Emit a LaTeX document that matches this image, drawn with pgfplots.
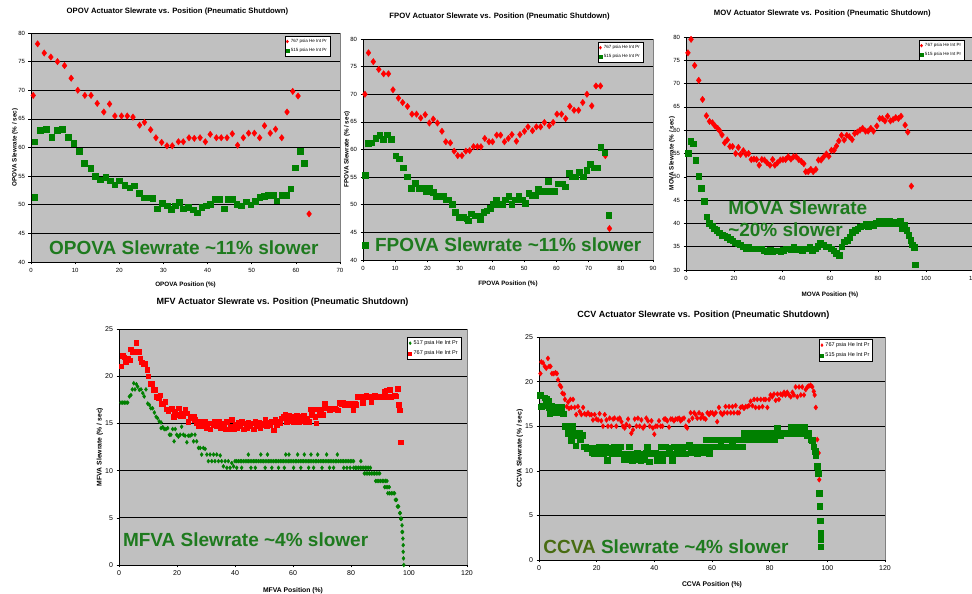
\documentclass[border=0pt]{standalone}
\usepackage{fontspec}
\setmainfont{Liberation Sans}
\usepackage{pgfplots}
\pgfplotsset{compat=1.18}
\definecolor{plotgray}{RGB}{192,192,192}
\definecolor{xlred}{RGB}{255,0,0}
\definecolor{xlgreen}{RGB}{0,128,0}
\definecolor{annog}{RGB}{30,122,30}
\definecolor{annoolive}{RGB}{72,108,18}
\pgfplotsset{
 every axis title shift=0pt,
 xlbase/.style={
  scale only axis,
  axis background/.style={fill=plotgray, draw=gray},
  axis x line*=bottom, axis y line*=left,
  axis line style={black,-,line width=0.5pt},
  tick align=outside, major tick length=2.5pt,
  tick style={black,line width=0.5pt},
  ymajorgrids, grid style={black,line width=0.6pt},
  /pgf/number format/assume math mode=true,
  legend cell align=left,
  legend image code/.code={\draw[##1,mark size=1.5pt] plot coordinates {(2pt,0pt)};},
 },
 topfonts/.style={
  ticklabel style={font=\fontsize{6}{7}\selectfont},
  label style={font=\fontsize{6.3}{7}\selectfont\bfseries},
  title style={font=\fontsize{7.7}{9}\selectfont\bfseries, anchor=center},
  legend style={draw=black, fill=white, font=\fontsize{4.5}{5}\selectfont, inner sep=1pt, row sep=0.5pt, anchor=north east},
 },
 botfonts/.style={
  ticklabel style={font=\fontsize{7}{8}\selectfont},
  label style={font=\fontsize{6.8}{8}\selectfont\bfseries},
  title style={font=\fontsize{9}{10}\selectfont\bfseries, anchor=center},
  legend style={draw=black, fill=white, font=\fontsize{5.5}{6}\selectfont, inner sep=1.2pt, row sep=0.8pt, anchor=north east},
 },
 redd/.style={only marks, mark=diamond*, color=xlred, mark size=#1},
 greens/.style={only marks, mark=square*, color=xlgreen, mark size=#1},
 gredd/.style={only marks, mark=diamond*, color=xlgreen, mark size=#1},
 reds/.style={only marks, mark=square*, color=xlred, mark size=#1},
}
\newcommand\anno{\fontsize{19}{22}\selectfont\bfseries}
\begin{document}
\begin{tikzpicture}
% ---------------- OPOV ----------------
\begin{axis}[xlbase, topfonts, at={(31pt,332pt)}, anchor=south west,
  width=309pt, height=229pt, xmin=0, xmax=70, ymin=40, ymax=80,
  xtick={0,10,...,70}, ytick={40,45,...,80},
  title={OPOV Actuator Slewrate vs. Position (Pneumatic Shutdown)},
  title style={at={(rel axis cs:0.474,1.092)}},
  xlabel={OPOVA Position (\%)}, xlabel style={at={(rel axis cs:0.5,-0.100)}, anchor=center},
  ylabel={OPOVA Slewrate (\% / sec)}, ylabel style={at={(rel axis cs:-0.052,0.5)}, anchor=center, rotate=0},
  legend style={at={(rel axis cs:0.968,0.987)}}]
\addplot[redd=3.2pt] coordinates {(0.5,69.1)(1.5,78.1)(3.0,76.5)(4.5,75.8)(6.0,75.0)(7.6,74.3)(9.1,72.1)(10.6,70.0)(12.2,69.1)(13.6,69.1)(15.0,67.7)(16.5,66.2)(17.8,67.6)(19.0,65.5)(20.5,65.5)(21.8,65.5)(23.1,65.3)(24.6,63.9)(25.7,64.4)(27.1,63.1)(28.3,61.7)(29.6,60.9)(30.8,60.3)(32.0,60.3)(33.4,61.0)(34.5,61.0)(35.8,61.7)(37.0,61.6)(38.3,61.7)(39.5,61.0)(40.6,62.3)(42.0,61.7)(43.1,61.7)(44.4,61.7)(45.6,62.4)(46.8,60.4)(48.1,61.7)(49.3,62.5)(50.6,62.5)(51.8,61.7)(52.9,63.8)(54.2,62.5)(55.4,63.2)(56.8,61.7)(58.0,66.2)(59.3,69.8)(60.5,69.0)(63.0,48.4)};
\addlegendentry{767 psia He Int Pr}
\addplot[greens=2.8pt] coordinates {(0.8,51.3)(0.8,61.0)(2.1,63.0)(3.5,63.2)(4.7,61.8)(5.9,63.0)(7.1,63.2)(8.4,61.8)(9.7,60.8)(10.9,59.4)(12.1,57.3)(13.5,56.4)(14.6,55.0)(15.7,54.4)(16.9,54.8)(18.0,54.2)(19.0,53.5)(20.0,54.2)(21.2,53.4)(22.4,53.0)(23.4,53.3)(24.5,52.0)(25.5,51.2)(26.6,51.2)(27.6,51.1)(28.6,49.3)(29.7,50.3)(30.8,49.8)(31.8,49.2)(32.7,49.8)(33.6,50.4)(34.5,49.3)(35.6,49.6)(36.7,49.1)(37.6,48.6)(38.7,49.6)(39.7,49.8)(40.6,50.1)(41.6,51.0)(42.6,51.0)(43.7,49.3)(44.7,51.0)(45.7,51.0)(46.6,50.1)(47.6,49.8)(48.7,50.5)(49.8,50.0)(50.8,50.6)(51.8,51.3)(52.8,51.5)(53.8,51.7)(54.8,51.7)(55.7,50.7)(56.8,51.7)(57.9,51.7)(58.8,52.8)(59.9,56.5)(61.0,59.4)(61.9,57.3)};
\addlegendentry{515 psia He Int Pr}
\node[anchor=west, inner sep=0, font=\anno, text=annog] at (rel axis cs:0.058,0.061) {OPOVA Slewrate \textasciitilde11\% slower};
\end{axis}
% ---------------- FPOV ----------------
\begin{axis}[xlbase, topfonts, at={(363pt,334pt)}, anchor=south west,
  width=290pt, height=221pt, xmin=0, xmax=90, ymin=40, ymax=80,
  xtick={0,10,...,90}, ytick={40,45,...,80},
  title={FPOV Actuator Slewrate vs. Position (Pneumatic Shutdown)},
  title style={at={(rel axis cs:0.471,1.100)}},
  xlabel={FPOVA Position (\%)}, xlabel style={at={(rel axis cs:0.5,-0.109)}, anchor=center},
  ylabel={FPOVA Slewrate (\% / sec)}, ylabel style={at={(rel axis cs:-0.055,0.5)}, anchor=center, rotate=0},
  legend style={at={(rel axis cs:0.966,0.986)}}]
\addplot[redd=3.2pt] coordinates {(0.6,70.0)(1.7,77.5)(3.2,75.9)(4.9,74.5)(6.4,73.7)(7.9,73.7)(9.3,70.8)(11.0,69.3)(12.3,68.5)(13.8,67.8)(15.2,66.4)(16.6,66.4)(17.9,65.7)(19.3,66.3)(20.6,64.8)(21.8,65.5)(23.1,64.8)(24.5,63.3)(25.7,61.4)(27.1,61.2)(28.3,59.7)(29.4,58.9)(30.7,58.9)(31.9,59.7)(33.1,59.8)(34.3,60.5)(35.5,60.5)(36.6,60.5)(37.8,62.0)(39.1,61.4)(40.2,61.4)(41.5,62.6)(42.7,62.6)(43.9,61.4)(45.1,62.0)(46.2,62.7)(47.6,61.5)(48.7,62.7)(50.1,63.3)(51.2,64.1)(52.6,63.4)(53.8,64.1)(55.1,64.1)(56.3,64.9)(57.8,64.3)(59.0,64.9)(60.2,66.4)(61.6,66.4)(62.9,65.6)(64.2,67.8)(65.5,67.1)(66.9,67.1)(68.2,68.5)(69.5,70.0)(71.0,67.9)(72.3,71.5)(73.7,71.5)(75.2,58.9)(76.5,45.7)};
\addlegendentry{767 psia He Int Pr}
\addplot[greens=2.8pt] coordinates {(0.6,55.3)(0.6,42.7)(1.7,61.1)(2.6,61.2)(3.9,62.0)(5.2,62.6)(6.3,61.9)(7.6,62.7)(8.7,61.9)(10.1,58.9)(11.3,58.3)(12.5,56.7)(13.8,55.1)(15.0,53.0)(16.2,53.9)(17.4,53.0)(18.6,53.0)(19.7,52.5)(20.7,53.0)(21.8,52.3)(22.8,51.6)(23.8,51.6)(24.8,51.6)(25.7,50.9)(26.6,50.9)(27.7,50.1)(28.7,48.6)(29.9,47.8)(31.1,47.8)(32.2,47.5)(32.7,47.1)(33.6,48.4)(34.7,48.0)(35.8,48.0)(36.4,47.4)(37.4,48.7)(38.4,48.9)(39.5,49.4)(40.3,50.1)(41.3,50.9)(42.3,50.1)(43.2,50.1)(44.2,50.9)(45.2,51.5)(46.2,50.1)(47.3,50.9)(48.3,51.5)(49.4,50.9)(50.3,50.3)(51.4,52.1)(52.5,51.7)(53.4,51.7)(54.4,52.8)(55.5,52.4)(56.5,52.5)(57.4,54.3)(58.5,52.4)(59.5,52.5)(60.6,53.8)(61.8,53.8)(62.8,53.3)(63.9,55.7)(64.9,55.1)(66.0,55.1)(67.1,55.9)(68.3,55.1)(69.4,56.2)(70.5,57.3)(71.8,56.7)(72.8,56.7)(73.8,60.4)(75.0,59.4)(76.3,48.1)};
\addlegendentry{515 psia He Int Pr}
\node[anchor=west, inner sep=0, font=\anno, text=annog] at (rel axis cs:0.041,0.068) {FPOVA Slewrate \textasciitilde11\% slower};
\end{axis}
% ---------------- MOV ----------------
\begin{axis}[xlbase, topfonts, at={(686pt,324pt)}, anchor=south west,
  width=288pt, height=233pt, xmin=0, xmax=120, ymin=30, ymax=80,
  xtick={0,20,...,120}, ytick={30,35,...,80},
  title={MOV Actuator Slewrate vs. Position (Pneumatic Shutdown)},
  title style={at={(rel axis cs:0.473,1.099)}},
  xlabel={MOVA Position (\%)}, xlabel style={at={(rel axis cs:0.5,-0.107)}, anchor=center},
  ylabel={MOVA Slewrate (\% / sec)}, ylabel style={at={(rel axis cs:-0.049,0.5)}, anchor=center, rotate=0},
  legend style={at={(rel axis cs:0.966,0.987)}}]
\addplot[redd=3.2pt] coordinates {(0.8,76.6)(2.1,79.5)(3.6,73.9)(5.3,70.7)(6.9,66.6)(8.5,63.1)(9.8,61.9)(11.0,61.6)(12.1,60.9)(13.2,60.4)(14.0,59.9)(15.0,59.0)(16.1,57.3)(17.2,57.9)(18.3,56.5)(19.4,56.5)(20.7,55.0)(21.8,56.3)(22.7,54.8)(23.9,55.6)(25.0,54.8)(26.1,55.0)(27.2,53.7)(28.3,53.8)(29.4,53.7)(30.5,52.5)(31.6,53.7)(32.7,53.6)(33.8,53.0)(35.0,52.5)(36.1,53.7)(37.0,52.5)(38.1,53.0)(39.3,53.6)(40.4,53.7)(41.5,53.7)(42.6,54.3)(43.7,53.8)(44.8,54.3)(45.9,54.3)(47.0,53.7)(48.1,53.3)(49.1,52.8)(49.9,51.1)(50.9,51.1)(52.0,51.6)(53.0,51.1)(54.1,51.6)(55.2,53.6)(56.3,53.6)(57.4,54.3)(58.5,54.9)(59.5,54.4)(60.6,55.7)(61.7,55.7)(62.7,56.6)(63.7,57.7)(64.8,58.9)(65.9,57.9)(67.0,58.9)(68.1,58.6)(69.2,58.0)(70.3,59.3)(71.4,59.6)(72.5,60.0)(73.6,60.4)(74.8,59.8)(75.9,59.8)(77.0,60.4)(78.1,59.8)(79.5,60.9)(80.7,62.5)(81.8,62.5)(82.9,62.0)(84.0,63.0)(85.2,62.0)(86.3,62.3)(87.4,62.7)(88.5,62.5)(89.6,63.0)(91.3,61.1)(92.4,59.6)(93.9,48.0)};
\addlegendentry{767 psia He Int Pr}
\addplot[greens=2.8pt] coordinates {(0.8,55.0)(1.9,57.7)(2.9,57.1)(4.0,53.6)(5.3,50.1)(6.4,47.6)(7.5,44.8)(8.6,41.4)(9.7,40.1)(10.8,39.5)(11.8,38.9)(12.8,38.6)(13.9,38.0)(15.0,37.5)(16.1,37.4)(17.2,37.0)(18.3,36.6)(19.4,36.3)(20.5,35.9)(21.6,35.7)(22.7,35.4)(23.9,35.0)(25.0,34.6)(26.1,34.9)(27.2,34.6)(28.3,34.6)(29.4,34.6)(30.5,34.6)(31.6,34.6)(32.7,34.1)(33.8,33.9)(35.0,34.3)(36.1,33.9)(37.2,34.1)(38.3,34.1)(39.4,33.9)(40.5,34.3)(41.6,34.6)(42.7,34.6)(43.8,34.4)(44.9,35.0)(46.0,34.4)(47.2,34.6)(48.3,34.1)(49.4,34.6)(50.5,34.6)(51.6,35.0)(52.7,34.3)(53.8,34.6)(54.9,35.1)(56.0,35.8)(57.1,35.4)(58.3,35.0)(59.4,35.0)(60.5,34.6)(61.6,34.1)(62.7,33.6)(63.8,33.2)(64.9,35.0)(66.0,36.1)(67.1,36.4)(68.2,37.1)(69.3,38.1)(70.5,38.6)(71.6,38.9)(72.7,39.3)(73.8,39.5)(74.9,39.9)(76.0,39.3)(77.1,39.9)(78.2,39.6)(79.3,40.1)(80.4,40.6)(81.6,40.0)(82.7,40.6)(83.8,40.0)(84.9,40.6)(86.0,40.0)(87.1,40.4)(88.2,39.9)(89.3,40.6)(89.9,38.9)(91.0,39.6)(92.0,38.6)(92.8,37.5)(93.6,36.4)(94.3,35.4)(95.0,34.9)(95.6,31.1)};
\addlegendentry{515 psia He Int Pr}
\node[anchor=west, align=left, inner sep=0, font=\anno, text=annog] at (rel axis cs:0.146,0.219) {MOVA Slewrate\\\textasciitilde20\% slower};
\end{axis}
% ---------------- MFV ----------------
\begin{axis}[xlbase, botfonts, at={(119pt,29pt)}, anchor=south west,
  width=348pt, height=236pt, xmin=0, xmax=120, ymin=0, ymax=25,
  xtick={0,20,...,120}, ytick={0,5,...,25},
  title={MFV Actuator Slewrate vs. Position (Pneumatic Shutdown)},
  title style={at={(rel axis cs:0.470,1.114)}},
  xlabel={MFVA Position (\%)}, xlabel style={at={(rel axis cs:0.5,-0.110)}, anchor=center},
  ylabel={MFVA Slewrate (\% / sec)}, ylabel style={at={(rel axis cs:-0.055,0.5)}, anchor=center, rotate=0},
  legend style={at={(rel axis cs:0.983,0.966)}}]
\addplot[gredd=2pt] coordinates {(0.7,17.2)(1.3,17.2)(1.8,17.2)(2.4,17.2)(3.0,17.2)(3.6,17.85)(4.1,18.0)(4.6,18.6)(5.1,19.25)(5.5,18.6)(6.0,19.15)(6.4,18.9)(7.0,18.55)(7.6,18.6)(8.2,18.2)(8.7,17.85)(9.3,18.6)(9.9,17.1)(10.5,16.95)(11.0,16.6)(11.6,16.6)(12.2,16.15)(12.8,15.7)(13.3,15.55)(13.9,15.2)(14.5,15.1)(14.5,14.5)(15.1,14.6)(15.6,14.4)(16.2,14.4)(16.8,14.5)(17.4,13.8)(17.9,13.8)(18.5,14.4)(19.0,13.1)(19.4,14.4)(19.9,13.8)(20.5,13.6)(21.1,13.8)(21.6,14.65)(22.2,13.8)(22.8,13.7)(23.4,13.0)(23.9,13.7)(24.5,13.7)(25.1,13.8)(25.7,13.1)(26.2,13.8)(26.8,13.1)(27.4,12.4)(28.0,12.4)(28.5,11.7)(29.1,12.4)(29.7,12.3)(30.3,11.7)(30.8,11.0)(31.4,11.7)(32.0,11.0)(32.6,11.7)(33.1,11.0)(33.7,11.7)(34.3,11.0)(34.9,11.6)(35.4,11.0)(36.0,10.45)(36.6,11.0)(37.2,10.3)(37.7,11.0)(38.3,10.3)(38.9,10.8)(39.5,10.45)(40.0,11.0)
(40.6,11.0)(41.2,11.0)(41.8,11.0)(42.3,11.0)(42.9,11.0)(43.5,11.0)(44.1,11.0)(44.6,11.0)(45.2,11.0)(45.8,11.0)(46.4,11.0)(46.9,11.0)(47.5,11.0)(48.1,11.0)(48.7,11.0)(49.3,11.0)(49.8,11.0)(50.4,11.0)(51.0,11.0)(51.6,11.0)(52.1,11.0)(52.7,11.0)(53.3,11.0)(53.9,11.0)(54.4,11.0)(55.0,11.0)(55.6,11.0)(56.2,11.0)(56.7,11.0)(57.3,11.0)(57.9,11.0)(58.5,11.0)(59.0,11.0)(59.6,11.0)(60.2,11.0)(60.8,11.0)(61.3,11.0)(61.9,11.0)(62.5,11.0)(63.1,11.0)(63.6,11.0)(64.2,11.0)(64.8,11.0)(65.4,11.0)(65.9,11.0)(66.5,11.0)(67.1,11.0)(67.7,11.0)(68.2,11.0)(68.8,11.0)(69.4,11.0)(70.0,11.0)(70.5,11.0)(71.1,11.0)(71.7,11.0)(72.3,11.0)(72.8,11.0)(73.4,11.0)(74.0,11.0)(74.6,11.0)(75.1,11.0)(75.7,11.0)(76.3,11.0)(76.9,11.0)(77.4,11.0)(78.0,11.0)(78.6,11.0)(79.2,11.0)(79.8,11.0)(80.3,11.0)(80.9,11.0)(83.4,11.0)
(40.6,10.3)(42.3,10.3)(45.5,10.3)(47.0,10.3)(50.4,10.3)(52.7,10.3)(55.0,10.3)(57.0,10.3)(60.2,10.3)(62.7,10.3)(65.4,10.3)(67.1,10.3)(70.0,10.3)(72.6,10.3)(74.0,10.3)(77.5,10.3)(78.6,10.3)(79.7,10.3)(80.9,10.3)(81.5,10.3)(82.0,10.3)(82.6,10.3)(83.2,10.3)(83.8,10.3)(84.4,10.3)(85.0,10.3)(85.5,10.3)(86.1,10.3)(86.7,10.3)
(44.6,11.7)(48.9,11.7)(51.2,11.7)(57.5,11.7)(58.6,11.7)(61.6,11.7)(63.9,11.7)(66.2,11.7)(68.5,11.7)(71.6,11.7)(75.3,11.7)
(84.6,9.7)(85.2,9.7)(85.8,9.7)(86.4,9.7)(87.0,9.7)(87.6,9.7)(88.1,9.7)(88.7,9.7)(89.3,9.7)(89.9,9.7)
(88.5,8.9)(89.0,8.9)(89.6,8.9)(90.2,8.9)(90.8,8.9)(91.3,8.9)(91.9,8.9)(92.4,8.9)
(91.6,8.25)(92.1,8.25)(92.7,8.25)(93.2,8.25)(92.7,7.6)(93.3,7.6)(93.9,7.6)(94.5,7.6)(95.0,7.6)
(95.3,6.9)(95.7,6.9)(96.0,6.2)(96.4,6.2)(96.8,5.5)(97.0,5.5)(97.1,4.9)(97.4,4.9)(97.6,4.2)(97.6,3.5)(97.8,3.5)(97.9,2.8)(98.0,2.1)(98.0,1.4)(98.1,0.7)(98.2,0.0)};
\addlegendentry{517 psia He Int Pr}
\addplot[reds=2.3pt] coordinates {(0.7,21.05)(1.2,22.2)(1.8,22.0)(2.4,21.5)(3.0,21.9)(3.6,21.7)(4.1,22.85)(4.7,22.6)(5.3,22.6)(5.9,23.55)(6.4,22.6)(7.0,22.6)(7.3,21.9)(7.8,21.5)(8.4,21.3)(9.1,21.3)(9.7,20.7)(10.1,20.0)(10.7,19.2)(11.4,19.2)(11.9,18.6)(12.4,18.6)(13.0,17.8)(13.6,17.7)(14.2,18.0)(14.7,17.1)(15.3,17.1)(15.9,17.3)(16.5,16.5)(17.0,16.3)(17.6,16.5)(18.2,16.6)(18.8,15.7)(19.3,16.3)(19.9,15.9)(20.5,16.6)(21.1,15.8)(21.6,16.1)(22.2,15.8)(22.8,16.5)(23.4,16.1)(23.9,15.2)(24.5,15.7)(25.1,15.55)(25.7,15.7)(26.2,15.4)(26.8,15.1)(27.4,14.7)(28.0,15.2)(28.5,15.1)(29.1,14.7)(29.7,15.2)(30.3,14.5)(30.8,15.0)(31.4,14.4)(32.0,15.0)(32.6,14.85)(33.1,15.2)(33.7,14.7)(34.3,15.2)(34.9,14.5)(35.4,15.0)(36.0,14.75)(36.6,14.4)(37.2,15.2)(37.7,14.4)(38.3,14.7)(38.9,15.4)(39.5,14.4)(40.0,14.85)(40.6,14.5)(41.2,15.1)(41.8,14.7)(42.3,15.2)(42.9,14.4)(43.5,15.0)(44.1,14.5)(44.6,15.1)(45.2,14.75)(45.8,15.0)(46.4,14.4)(46.9,15.2)(47.5,14.7)(48.1,15.1)(48.7,14.5)(49.3,15.0)(49.8,14.85)(50.4,15.4)(51.0,14.7)(51.6,15.1)(52.1,14.85)(52.7,15.2)(53.3,14.3)(53.9,15.4)(54.4,14.85)(55.0,15.2)(55.6,15.1)(56.2,15.55)(56.7,15.7)(57.3,15.9)(57.9,15.2)(58.5,15.8)(59.0,15.3)(59.6,15.7)(60.2,15.2)(60.8,15.55)(61.3,15.8)(61.9,15.2)(62.5,15.7)(63.1,15.3)(63.6,15.8)(64.2,15.2)(64.8,15.55)(65.4,15.2)(65.9,16.5)(66.5,15.9)(67.1,16.5)(67.7,15.7)(68.0,15.0)(68.6,16.5)(69.2,15.9)(69.7,16.5)(70.3,15.9)(70.9,17.1)(71.5,16.6)(72.0,16.6)(72.6,16.4)(73.2,16.5)(73.8,16.6)(74.3,16.6)(74.9,16.5)(75.5,16.4)(76.1,17.2)(76.6,17.1)(77.2,17.2)(77.8,16.95)(78.4,17.1)(78.9,16.95)(79.5,17.1)(80.1,16.95)(80.7,16.4)(81.2,17.1)(81.8,16.95)(82.4,17.8)(83.0,17.8)(83.5,17.8)(84.1,17.2)(84.7,17.8)(85.3,18.0)(85.8,17.9)(86.4,17.8)(87.0,17.3)(87.6,17.9)(88.1,18.0)(88.7,17.8)(89.3,17.9)(89.9,17.8)(90.5,17.9)(91.0,17.8)(91.6,18.4)(92.2,18.5)(92.8,17.8)(93.3,18.6)(93.9,17.8)(94.5,17.9)(95.1,18.0)(95.6,17.9)(96.0,18.7)(96.4,17.0)(96.8,16.4)(97.2,13.0)};
\addlegendentry{767 psia He Int Pr}
\node[anchor=west, inner sep=0, font=\anno, text=annog] at (rel axis cs:0.011,0.106) {MFVA Slewrate \textasciitilde4\% slower};
\end{axis}
% ---------------- CCV ----------------
\begin{axis}[xlbase, botfonts, at={(539pt,34pt)}, anchor=south west,
  width=346pt, height=223pt, xmin=0, xmax=120, ymin=0, ymax=25,
  xtick={0,20,...,120}, ytick={0,5,...,25},
  title={CCV Actuator Slewrate vs. Position (Pneumatic Shutdown)},
  title style={at={(rel axis cs:0.475,1.099)}},
  xlabel={CCVA Position (\%)}, xlabel style={at={(rel axis cs:0.5,-0.112)}, anchor=center},
  ylabel={CCVA Slewrate (\% / sec)}, ylabel style={at={(rel axis cs:-0.055,0.5)}, anchor=center, rotate=0},
  legend style={at={(rel axis cs:0.965,0.991)}}]
\addplot[redd=2.5pt] coordinates {(0.5,20.9)(0.8,22.2)(1.4,22.1)(2.0,21.7)(2.5,21.5)(3.1,22.6)(3.5,21.7)(4.0,21.7)(4.5,20.9)(5.1,20.9)(5.7,21.0)(6.2,20.9)(6.6,20.2)(7.2,19.6)(7.7,19.4)(8.1,18.7)(8.7,18.6)(9.0,18.0)(9.6,17.2)(10.1,17.7)(10.4,17.0)(10.9,18.0)(11.2,17.1)(11.8,18.0)(12.4,17.1)(12.9,16.3)(13.5,17.2)(14.1,16.65)(14.7,16.3)(15.3,17.1)(15.8,16.4)(16.4,16.3)(17.0,16.5)(17.6,16.3)(18.2,16.3)(18.7,15.7)(19.3,16.3)(19.9,15.8)(20.5,15.7)(21.0,16.4)(21.6,15.6)(22.2,15.0)(22.8,16.3)(23.4,15.7)(23.9,15.0)(24.5,15.9)(25.1,15.0)(25.7,15.8)(26.2,15.9)(26.8,15.0)(27.4,15.8)(28.0,15.9)(28.6,15.5)(29.1,15.0)(29.7,14.8)(30.3,15.2)(30.9,15.8)(31.4,15.0)(32.0,14.2)(32.6,14.6)(33.2,15.8)(33.8,15.0)(34.3,15.9)(34.9,15.0)(35.5,15.7)(36.1,14.8)(36.6,15.0)(37.2,15.9)(37.8,15.6)(38.4,15.0)(39.0,15.6)(39.5,14.8)(40.0,14.1)(40.5,15.0)(41.0,15.0)(41.6,15.6)(42.2,15.0)(42.8,15.0)(43.4,15.8)(43.9,15.8)(44.5,15.6)(45.1,14.9)(45.7,15.8)(46.2,15.8)(46.8,15.6)(47.4,15.8)(48.0,15.8)(48.6,15.9)(49.1,15.6)(49.7,15.8)(50.3,15.9)(50.9,15.0)(51.4,14.8)(52.0,15.6)(52.6,16.5)(53.2,15.9)(53.8,16.5)(54.3,16.3)(54.9,15.9)(55.5,16.5)(56.1,15.9)(56.6,16.3)(57.2,15.9)(57.8,15.8)(58.4,16.5)(59.0,16.3)(59.5,16.5)(60.1,16.5)(60.7,16.3)(61.3,16.5)(61.8,15.5)(62.4,17.1)(63.0,16.5)(63.6,16.3)(64.2,16.5)(64.7,17.2)(65.3,16.5)(65.9,17.2)(66.5,16.5)(67.1,17.2)(67.6,16.5)(68.2,17.3)(68.8,16.5)(69.4,16.5)(69.9,17.1)(70.5,17.2)(71.1,17.0)(71.7,17.2)(72.3,17.2)(72.8,17.3)(73.4,17.8)(74.0,17.3)(74.6,18.0)(75.1,17.1)(75.7,18.0)(76.3,17.1)(76.9,18.0)(77.5,17.2)(78.0,18.0)(78.6,18.0)(79.2,17.1)(79.8,18.0)(80.3,18.5)(80.9,18.3)(81.5,18.6)(82.1,17.9)(82.7,18.6)(83.2,18.0)(83.8,18.6)(84.4,18.5)(85.0,18.8)(85.5,18.5)(86.1,18.8)(86.7,18.5)(87.3,18.3)(87.9,18.8)(88.4,18.5)(89.0,19.4)(89.6,18.3)(90.2,19.4)(90.8,18.5)(91.3,19.4)(91.9,18.5)(92.5,19.1)(93.1,19.4)(93.6,19.5)(94.2,19.6)(94.8,19.4)(95.3,18.9)(95.6,18.5)(96.0,17.1)(96.5,13.5)(97.0,12.0)(97.2,9.0)};
\addlegendentry{767 psia He Int Pr}
\addplot[greens=2.8pt] coordinates {(0.5,18.5)(0.8,17.2)(1.4,17.3)(2.0,18.2)(2.5,18.0)(3.1,17.8)(3.5,17.1)(3.7,16.4)(4.3,17.3)(4.9,17.1)(5.4,17.1)(6.0,16.5)(6.6,17.1)(7.2,16.5)(7.7,17.1)(8.3,16.4)(8.9,15.0)(9.5,15.0)(10.1,14.2)(10.6,14.2)(11.2,13.4)(11.6,15.0)(12.0,14.2)(12.7,12.8)(13.2,14.0)(13.9,14.2)(14.3,13.5)(14.9,14.0)(15.5,12.7)(16.2,12.7)(16.6,12.5)(17.3,12.5)(17.9,12.5)(18.5,12.05)(19.1,11.9)(19.7,12.5)(20.2,11.9)(20.8,12.7)(21.4,12.05)(22.0,12.5)(22.5,12.0)(23.1,12.7)(23.7,11.2)(24.3,12.05)(24.9,12.5)(25.4,11.9)(26.0,12.7)(26.6,12.05)(27.2,11.9)(27.7,12.5)(28.3,12.7)(28.9,11.9)(29.5,11.3)(30.1,11.9)(30.6,11.3)(31.2,12.7)(31.8,11.9)(32.4,11.2)(32.9,11.9)(33.5,11.3)(34.1,12.05)(34.7,11.9)(35.3,11.2)(35.8,11.9)(36.4,11.3)(37.0,12.05)(37.6,12.7)(38.2,11.0)(38.7,11.9)(39.3,12.05)(39.9,11.9)(40.5,12.05)(41.0,11.2)(41.6,11.9)(42.2,12.7)(42.8,11.2)(43.4,11.9)(43.9,12.7)(44.5,11.9)(45.1,12.5)(45.7,11.9)(46.2,11.2)(46.8,12.7)(47.4,11.9)(48.0,12.5)(48.6,12.7)(49.1,11.9)(49.7,12.5)(50.3,12.7)(50.9,11.9)(51.4,12.7)(52.0,12.9)(52.6,12.05)(53.2,12.7)(53.8,12.5)(54.3,12.7)(54.9,11.9)(55.5,12.5)(56.1,12.7)(56.6,12.05)(57.2,12.7)(57.8,13.5)(58.4,12.7)(59.0,12.0)(59.5,13.5)(60.1,12.7)(60.7,13.5)(61.3,12.7)(61.8,13.5)(62.4,12.7)(63.0,13.4)(63.6,12.7)(64.2,13.5)(64.7,12.7)(65.3,13.5)(65.9,12.7)(66.5,13.5)(67.1,13.3)(67.6,12.7)(68.2,13.5)(68.8,13.5)(69.4,12.7)(69.9,13.5)(70.5,12.7)(71.1,14.2)(71.7,13.5)(72.3,14.2)(72.8,13.5)(73.4,14.2)(74.0,14.0)(74.6,13.5)(75.1,14.2)(75.7,14.0)(76.3,13.5)(76.9,14.2)(77.5,14.0)(78.0,13.5)(78.6,14.2)(79.2,14.0)(79.8,13.5)(80.3,14.2)(80.9,14.0)(81.5,13.5)(82.1,14.2)(82.7,14.8)(83.2,14.2)(83.8,14.0)(84.4,14.2)(85.0,14.2)(85.5,14.2)(86.1,14.2)(86.7,14.2)(87.3,14.9)(87.9,14.2)(88.4,14.9)(89.0,14.2)(89.6,14.9)(90.2,14.2)(90.8,14.9)(91.3,14.2)(91.9,14.9)(92.5,14.2)(93.1,14.0)(93.6,14.2)(94.2,13.5)(94.8,13.4)(95.3,12.7)(95.7,12.2)(96.0,11.7)(96.4,10.5)(96.8,9.7)(97.1,7.5)(97.3,6.0)(97.5,4.4)(97.7,3.0)(97.7,2.3)(97.7,1.5)};
\addlegendentry{515 psia He Int Pr}
\node[anchor=west, inner sep=0, font=\anno, text=annog] at (rel axis cs:0.012,0.058) {\textcolor{annoolive}{CCVA} Slewrate \textasciitilde4\% slower};
\end{axis}
\pgfresetboundingbox
\path[use as bounding box] (0,0) rectangle (972pt,594pt);
\end{tikzpicture}
\end{document}
